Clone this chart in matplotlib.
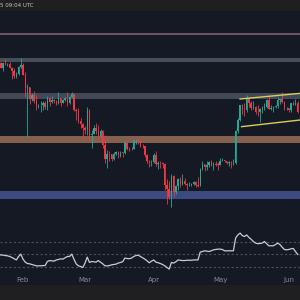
import numpy as np
import pandas as pd
import matplotlib
matplotlib.use("Agg")
import matplotlib.pyplot as plt
from matplotlib.ticker import NullFormatter

# daily candles from Jan 21 to Jun 5
start = "2025-01-21"
opens = [3280, 3330, 3240, 3340, 3310, 3320, 3240, 3180, 3080, 3120, 3250,
         3300, 3110, 2870, 2880, 2680, 2740, 2640, 2570, 2580, 2580, 2610, 2550, 2690, 2630,
         2670, 2640, 2610, 2690, 2620, 2670, 2690, 2610, 2710, 2760, 2510, 2490, 2340, 2300,
         2240, 2220, 2510, 2150, 2170, 2240, 2200, 2140, 2200, 2020, 1860, 1920, 1910, 1860,
         1910, 1940, 1890, 1930, 1925, 2050, 1980, 1970, 1980, 2080, 2085, 2070, 2010, 2005,
         1900, 1830, 1820,
         1825, 1900, 1800, 1815, 1810, 1800, 1580, 1550, 1470, 1670, 1520, 1570, 1640, 1590,
         1620, 1590, 1580, 1585, 1590, 1610, 1580, 1575, 1750, 1800, 1770, 1790, 1820, 1790,
         1800, 1795,
         1790, 1840, 1845, 1830, 1810, 1820, 1810, 1815, 2210, 2350, 2580, 2510, 2500, 2680,
         2610, 2540, 2550, 2480, 2470, 2520, 2530, 2550, 2660, 2525, 2530, 2550, 2560, 2660,
         2685, 2630, 2530,
         2535, 2510, 2610, 2590, 2610]
highs = [3360, 3370, 3350, 3420, 3350, 3370, 3260, 3240, 3170, 3280, 3440,
         3330, 3160, 2930, 2890, 2780, 2810, 2750, 2600, 2650, 2640, 2640, 2730, 2710, 2730,
         2680, 2670, 2800, 2700, 2680, 2710, 2795, 2730, 2800, 2780, 2540, 2530, 2380, 2310,
         2270, 2550, 2520, 2220, 2280, 2320, 2290, 2230, 2220, 2150, 1960, 1950, 1920, 1940,
         1950, 1950, 1950, 1940, 2070, 2070, 2000, 2000, 2090, 2100, 2100, 2100, 2040, 2010,
         1910, 1850, 1850,
         1930, 1950, 1830, 1830, 1820, 1810, 1640, 1620, 1690, 1680, 1580, 1650, 1660, 1690,
         1650, 1600, 1610, 1600, 1620, 1620, 1660, 1760, 1830, 1805, 1830, 1830, 1850, 1820,
         1840, 1820,
         1870, 1870, 1850, 1840, 1830, 1830, 1860, 2220, 2390, 2590, 2600, 2620, 2740, 2720,
         2650, 2640, 2560, 2580, 2530, 2570, 2620, 2680, 2740, 2580, 2560, 2590, 2710, 2680,
         2790, 2650, 2550,
         2540, 2620, 2650, 2680, 2640]
lows = [3200, 3230, 3180, 3290, 3270, 3230, 3020, 3050, 3040, 3110, 3240,
        3100, 2720, 2120, 2600, 2650, 2610, 2510, 2530, 2480, 2510, 2520, 2500, 2570, 2620,
        2620, 2590, 2600, 2570, 2610, 2650, 2570, 2600, 2700, 2490, 2360, 2310, 2250, 2080,
        2170, 2150, 2100, 1990, 2160, 2170, 2100, 2130, 1990, 1810, 1760, 1830, 1830, 1850,
        1900, 1870, 1880, 1880, 1920, 1960, 1950, 1960, 1970, 2030, 2040, 2000, 1990, 1880,
        1810, 1770, 1780,
        1810, 1780, 1750, 1760, 1760, 1540, 1410, 1450, 1385, 1470, 1500, 1540, 1560, 1580,
        1580, 1540, 1570, 1570, 1580, 1560, 1560, 1570, 1740, 1730, 1740, 1770, 1780, 1740,
        1780, 1740,
        1785, 1830, 1820, 1800, 1780, 1760, 1790, 1800, 2180, 2340, 2440, 2420, 2470, 2550,
        2510, 2520, 2450, 2410, 2330, 2460, 2500, 2540, 2520, 2510, 2470, 2530, 2540, 2600,
        2620, 2500, 2510,
        2470, 2480, 2580, 2580, 2460]
closes = [3330, 3240, 3340, 3310, 3320, 3240, 3180, 3080, 3120, 3250, 3300,
          3110, 2870, 2880, 2680, 2740, 2640, 2570, 2580, 2580, 2610, 2550, 2690, 2630, 2670,
          2640, 2610, 2690, 2620, 2670, 2690, 2610, 2710, 2760, 2510, 2490, 2340, 2300, 2240,
          2220, 2510, 2150, 2170, 2240, 2200, 2140, 2200, 2020, 1860, 1920, 1910, 1860, 1910,
          1940, 1890, 1930, 1925, 2050, 1980, 1970, 1980, 2080, 2085, 2070, 2010, 2005, 1900,
          1830, 1820, 1825,
          1900, 1800, 1815, 1810, 1800, 1580, 1550, 1470, 1670, 1520, 1570, 1640, 1590, 1620,
          1590, 1580, 1585, 1590, 1610, 1580, 1575, 1750, 1800, 1770, 1790, 1820, 1790, 1800,
          1795, 1790,
          1840, 1845, 1830, 1810, 1820, 1810, 1815, 2210, 2350, 2580, 2510, 2500, 2680, 2610,
          2540, 2550, 2480, 2470, 2520, 2530, 2550, 2660, 2525, 2530, 2550, 2560, 2660, 2685,
          2630, 2530, 2535,
          2510, 2610, 2590, 2610, 2480]

# RSI line
rsi = [49, 49, 48.7, 48, 47.6, 46.5, 45, 43, 41, 46.5, 50.3,
       42.3, 37.5, 35.3, 34.8, 33.7, 32.7, 31.6, 31.6, 31.6, 32,
       32, 38.5, 40, 39.6, 39, 41, 41.7, 42.8, 42.3, 44.4,
       46.5, 46.5, 50.3, 42.3, 34.8, 31.6, 30.5, 28.9, 36, 45.5,
       37, 38.5, 38, 37.5, 40, 37.5, 34.8, 31.6, 31.6, 32,
       33.2, 33.7, 34.3, 36, 37, 38, 44, 43.3, 43, 44,
       46.5, 48, 48.7, 46.5, 44.4, 42.3, 39.6, 36.5, 39, 41,
       37.5, 36.5, 35.3, 33.7, 31.6, 28.9, 26.3, 37, 36, 38,
       41, 40.5, 40, 40, 40.5, 40.5, 40.5, 41, 41, 41,
       53.5, 54.5, 55.6, 55, 54.5, 55.6, 57.2, 57.7, 58.3, 58.3,
       57.7, 55.6, 55.6, 55.6, 55.6, 55.6, 76, 81, 84, 80,
       78.5, 81, 77, 74, 70.5, 68, 67, 67.4, 68, 70.5,
       67, 63.6, 63.6, 63.6, 65.6, 68, 65.6, 61.5, 57.7, 57.2,
       57.7, 58.8, 59.4, 54.5, 49.7]
rsi_levels = [70, 50, 30]

# support / resistance zones
zone_lo = [3955, 3355, 2680, 2052, 1452]
zone_hi = [4005, 3437, 2775, 2138, 1527]
zone_colors = ["#6f5068", "#454e5a", "#404955", "#85604f", "#3c4a82"]

# rising channel (day index, price)
chan_top_x = [109, 136.1]
chan_top_y = [2680, 2774]
chan_bot_x = [109.7, 136.1]
chan_bot_y = [2263, 2357]

BG = "#151924"
UP = "#22ab94"
DOWN = "#f23645"

opens = np.array(opens, float)
highs = np.array(highs, float)
lows = np.array(lows, float)
closes = np.array(closes, float)
dates = pd.date_range(start, periods=len(closes), freq="D")
days = np.arange(len(closes))

fig = plt.figure(figsize=(3, 3), dpi=100)
fig.patch.set_facecolor("#1f1f22")

ax = fig.add_axes([0, 70 / 300, 1, 219 / 300])
ax_r = fig.add_axes([0, 15 / 300, 1, 55 / 300], sharex=ax)

for a in (ax, ax_r):
    a.set_facecolor(BG)
    for s in a.spines.values():
        s.set_visible(False)
    a.tick_params(which="both", left=False, bottom=False, labelleft=False, labelbottom=False)

# zones
for lo, hi, c in zip(zone_lo, zone_hi, zone_colors):
    ax.axhspan(lo, hi, color=c, lw=0, zorder=1)

# candles
up = closes >= opens
cols = np.where(up, UP, DOWN)
ax.vlines(days, lows, highs, colors=cols, lw=0.6, zorder=2)
body_lo = np.minimum(opens, closes)
body_h = np.maximum(np.abs(closes - opens), body_lo * 0.004)
ax.bar(days, body_h, bottom=body_lo, width=0.62, color=cols, lw=0, zorder=3)

# channel
ax.plot(chan_top_x, chan_top_y, color="#d6cf5c", lw=1, zorder=4)
ax.plot(chan_bot_x, chan_bot_y, color="#d6cf5c", lw=1, zorder=4)

ax.set_yscale("log")
ax.yaxis.set_minor_formatter(NullFormatter())
ax.yaxis.set_major_formatter(NullFormatter())
ax.set_ylim(1203, 4590)
ax.set_xlim(0.62, 136.06)

# RSI panel
for v in rsi_levels:
    ax_r.axhline(v, color="#4a505c", lw=0.8, ls=(0, (2, 2)))
ax_r.plot(days, rsi, color="#c9ccd6", lw=0.9)
ax_r.set_ylim(0.9, 88.9)

# month labels
for i, d in enumerate(dates):
    if d.day == 1:
        ax_r.text(days[i], 9, d.strftime("%b"), ha="center", va="center",
                  fontsize=5, color="#878b94")

fig.text(0.5 / 300, 1 - 5.5 / 300, "5 09:04 UTC", ha="left", va="center",
         fontsize=4, color="#c8c9cc")

fig.savefig("out.png", dpi=100, facecolor=fig.get_facecolor())
